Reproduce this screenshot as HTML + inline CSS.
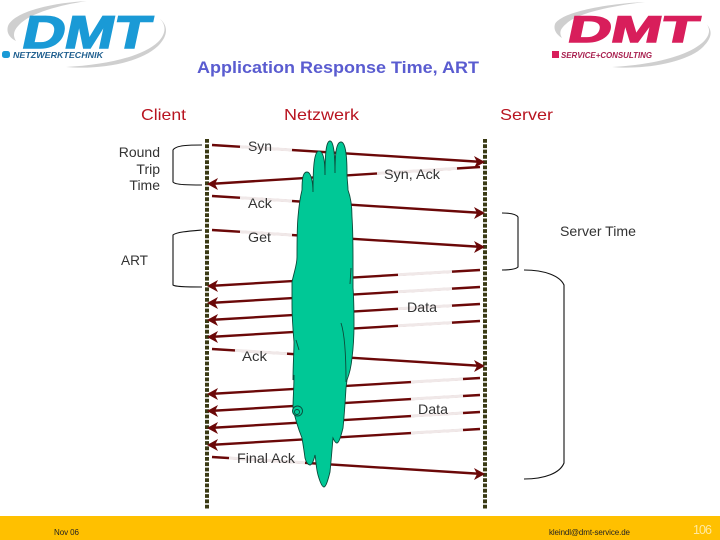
<!DOCTYPE html>
<html><head><meta charset="utf-8"><style>
html,body{margin:0;padding:0;background:#fff}
svg{display:block}
text{font-family:"Liberation Sans",sans-serif}
.l{font-size:14px;fill:#333}
.h{font-size:16px;fill:#b81420}
.d{stroke:#6b0808;stroke-width:2.4;fill:none}
.p{stroke:#f0e8e8;stroke-width:3;fill:none}
.b{stroke:#111;stroke-width:1.1;fill:none}
.c{stroke:#0c4a3a;stroke-width:.9;fill:none}
</style></head><body>
<svg width="720" height="540" viewBox="0 0 720 540" xmlns="http://www.w3.org/2000/svg">
<rect width="720" height="540" fill="#fff"/>
<!-- left logo -->
<path d="M87 1C50 3 14 12 8 26C6 33 10 38 16 41C13 36 13 31 19 25C30 13 60 5 87 1Z" fill="#cfcfcf"/>
<path d="M159 18C166 24 167 33 158 42C142 57 105 65 66 67C100 70 140 63 158 46C169 35 168 25 159 18Z" fill="#cfcfcf"/>
<text transform="translate(20,48) skewX(-12) scale(1.28,1)" font-size="46" font-weight="700" fill="#1a9ad6" stroke="#1a9ad6" stroke-width="1.500">DMT</text>
<rect x="2" y="51" width="8" height="7" rx="2.500" fill="#1a9ad6"/>
<text x="13" y="58" font-size="8" font-weight="700" font-style="italic" fill="#1f5f8f" textLength="90" lengthAdjust="spacingAndGlyphs">NETZWERKTECHNIK</text>
<!-- right logo -->
<path d="M645 2C605 4 562 12 555 24C553 30 557 35 562 38C559 33 560 29 566 24C577 13 612 6 645 2Z" fill="#cfcfcf"/>
<path d="M704 22C711 27 711 35 702 43C687 56 652 65 612 67C646 70 688 62 703 47C713 37 713 29 704 22Z" fill="#cfcfcf"/>
<text transform="translate(566,42) skewX(-12) scale(1.62,1)" font-size="37" font-weight="700" fill="#d81e5b" stroke="#d81e5b" stroke-width="1.500">DMT</text>
<rect x="552" y="51" width="7" height="7" fill="#d81e5b"/>
<text x="561" y="58" font-size="8" font-weight="700" font-style="italic" fill="#a8204f" textLength="91" lengthAdjust="spacingAndGlyphs">SERVICE+CONSULTING</text>
<!-- headings -->
<text x="197" y="73" font-size="16.500" font-weight="700" fill="#5a5cd0" textLength="282" lengthAdjust="spacingAndGlyphs">Application Response Time, ART</text>
<text x="141" y="120" class="h" textLength="45" lengthAdjust="spacingAndGlyphs">Client</text>
<text x="284" y="120" class="h" textLength="75" lengthAdjust="spacingAndGlyphs">Netzwerk</text>
<text x="500" y="120" class="h" textLength="53" lengthAdjust="spacingAndGlyphs">Server</text>
<!-- timelines -->
<path d="M207 139V510M485 139V510" stroke="#3a3a14" stroke-width="4" stroke-dasharray="3.800 1.500" fill="none"/>
<!-- arrows -->
<g class="d">
<path class="d" d="M212 145L483 162"/><path class="d" d="M480 167L209 184"/>
<path class="d" d="M212 196L483 213"/><path class="d" d="M212 230L483 247"/>
<path class="d" d="M480 270L209 286"/><path class="d" d="M480 287L209 303"/>
<path class="d" d="M480 304L209 320"/><path class="d" d="M480 321L209 337"/>
<path class="d" d="M212 349L483 366"/>
<path class="d" d="M480 378L209 394"/><path class="d" d="M480 395L209 411"/>
<path class="d" d="M480 412L209 428"/><path class="d" d="M480 429L209 445"/>
<path class="d" d="M212 457L483 474"/>
</g>
<g fill="#6b0808">
<path d="M485 162L474 156L477 162L474 168Z"/><path d="M207 184L218 178L215 184L218 190Z"/>
<path d="M485 213L474 207L477 213L474 219Z"/><path d="M485 247L474 241L477 247L474 253Z"/>
<path d="M207 286L218 280L215 286L218 292Z"/><path d="M207 303L218 297L215 303L218 309Z"/>
<path d="M207 320L218 314L215 320L218 326Z"/><path d="M207 337L218 331L215 337L218 343Z"/>
<path d="M485 366L474 360L477 366L474 372Z"/>
<path d="M207 394L218 388L215 394L218 400Z"/><path d="M207 411L218 405L215 411L218 417Z"/>
<path d="M207 428L218 422L215 428L218 434Z"/><path d="M207 445L218 439L215 445L218 451Z"/>
<path d="M485 474L474 468L477 474L474 480Z"/>
</g>
<!-- pale segments -->
<path class="p" d="M240 146.700L292 150M457 168.400L377 173.400M240 197.700L292 201M240 231.700L292 235
M452 271.600L398 274.800M452 288.600L398 291.800M452 305.600L398 308.800M452 322.600L398 325.800
M235 350.400L287 353.700M463 379L411 382M463 396L411 399M463 413L411 416M463 430L411 433M229 458L305 462.800"/>
<!-- cloud -->
<path d="M302 190C302 178 303 172 307 172C311 172 313 182 313 192C313 168 314 151 319 151C324 151 325 163 325 175C325 155 326 141 330 141C334 141 335 158 335 173C335 155 336 142 341 142C346 142 347 160 347 173C347 180 348 185 348 190C351 198 352 208 352 217C353 232 353 245 353 260L353 288C354 300 354 312 354 325C354 340 353 350 352 358C351 368 349 375 347 380L346 388C345 405 344 418 343 428C341 436 339 443 337 443C335 443 334 440 333 438C332 450 331 462 330 472C328 480 326 487 324 487C322 487 320 482 318 475C316 468 316 460 315 455C314 460 312 465 310 465C308 465 306 462 305 458C304 450 303 444 302 438C298 428 295 418 293 408C293 398 294 388 294 375L293 380C293 365 294 352 294 342C293 330 292 318 292 305C292 295 292 288 292 282C294 272 297 265 297 257C297 240 297 228 298 217C299 205 300 198 302 190Z" fill="#00c896" stroke="#0c4a3a" stroke-width=".9"/>
<path class="c" d="M341 323C345 335 346 360 346 382M351 268L350 284M296 340L299 350"/>
<circle cx="297.500" cy="411" r="5" fill="#00c896" stroke="#0c4a3a" stroke-width=".9"/>
<circle cx="297" cy="412" r="2.500" class="c"/>
<!-- brackets -->
<path class="b" d="M202 145C190 145 176 145 173 150V182C175 185 190 185 202 185"/>
<path class="b" d="M202 230C190 231 176 232 173 235V285C175 287 190 287 202 287"/>
<path class="b" d="M502 213C510 213 516 214 518 217V267C516 269 510 270 502 270"/>
<path class="b" d="M524 270C545 270 560 276 564 285V463C560 473 545 479 524 479"/>
<!-- labels -->
<text class="l" x="248" y="151" textLength="24" lengthAdjust="spacingAndGlyphs">Syn</text>
<text class="l" x="384" y="179" textLength="56" lengthAdjust="spacingAndGlyphs">Syn, Ack</text>
<text class="l" x="248" y="208" textLength="24" lengthAdjust="spacingAndGlyphs">Ack</text>
<text class="l" x="248" y="242" textLength="23" lengthAdjust="spacingAndGlyphs">Get</text>
<text class="l" x="407" y="312" textLength="30" lengthAdjust="spacingAndGlyphs">Data</text>
<text class="l" x="242" y="361" textLength="25" lengthAdjust="spacingAndGlyphs">Ack</text>
<text class="l" x="418" y="414" textLength="30" lengthAdjust="spacingAndGlyphs">Data</text>
<text class="l" x="237" y="463" textLength="58" lengthAdjust="spacingAndGlyphs">Final Ack</text>
<text class="l" x="560" y="236" textLength="76" lengthAdjust="spacingAndGlyphs">Server Time</text>
<text class="l" x="121" y="265" textLength="27" lengthAdjust="spacingAndGlyphs">ART</text>
<text class="l" x="160" y="157" text-anchor="end">Round</text>
<text class="l" x="160" y="174" text-anchor="end">Trip</text>
<text class="l" x="160" y="190" text-anchor="end">Time</text>
<!-- footer -->
<rect x="0" y="516" width="720" height="24" fill="#ffc000"/>
<text x="54" y="535" font-size="8" fill="#222" textLength="25">Nov 06</text>
<text x="549" y="535" font-size="8" fill="#222" textLength="81">kleindl@dmt-service.de</text>
<text x="693" y="534" font-size="12.500" fill="#ffe9a0" textLength="19">106</text>
</svg>
</body></html>
